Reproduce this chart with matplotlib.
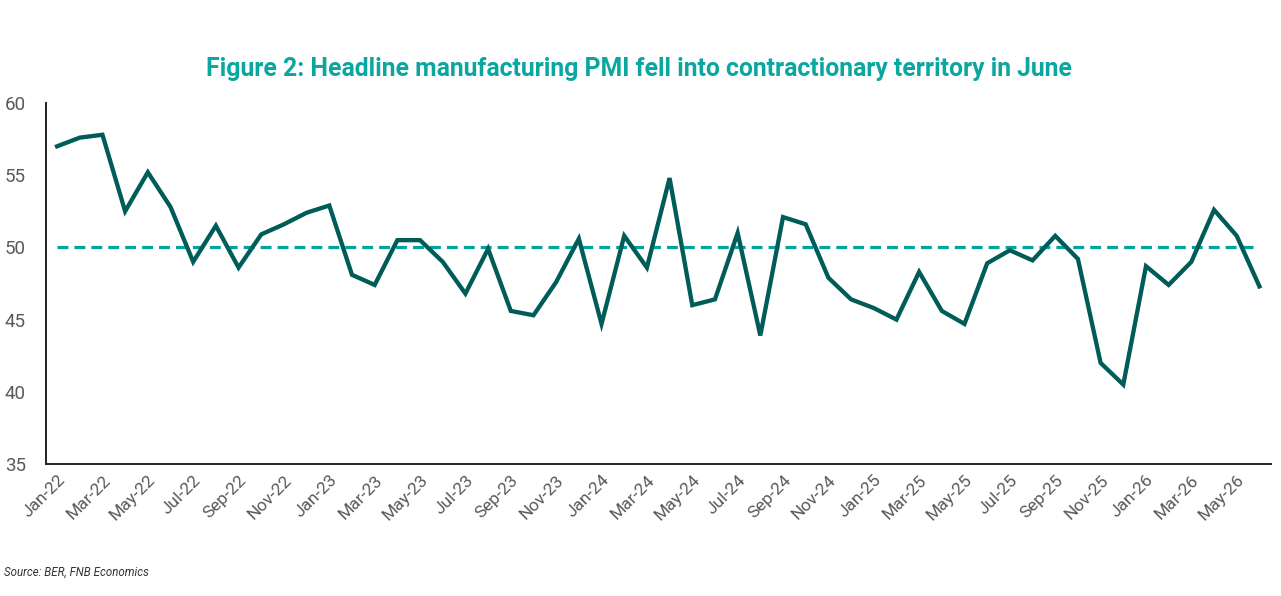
import matplotlib
matplotlib.use("Agg")
import matplotlib.pyplot as plt

# Monthly headline manufacturing PMI, Jan-22 to Jun-26
months = [
    "Jan-22", "Feb-22", "Mar-22", "Apr-22", "May-22", "Jun-22",
    "Jul-22", "Aug-22", "Sep-22", "Oct-22", "Nov-22", "Dec-22",
    "Jan-23", "Feb-23", "Mar-23", "Apr-23", "May-23", "Jun-23",
    "Jul-23", "Aug-23", "Sep-23", "Oct-23", "Nov-23", "Dec-23",
    "Jan-24", "Feb-24", "Mar-24", "Apr-24", "May-24", "Jun-24",
    "Jul-24", "Aug-24", "Sep-24", "Oct-24", "Nov-24", "Dec-24",
    "Jan-25", "Feb-25", "Mar-25", "Apr-25", "May-25", "Jun-25",
    "Jul-25", "Aug-25", "Sep-25", "Oct-25", "Nov-25", "Dec-25",
    "Jan-26", "Feb-26", "Mar-26", "Apr-26", "May-26", "Jun-26",
]
pmi = [
    57.0, 57.6, 57.8, 52.5, 55.2, 52.8,
    49.0, 51.5, 48.6, 50.9, 51.6, 52.4,
    52.9, 48.1, 47.4, 50.5, 50.5, 49.0,
    46.8, 49.9, 45.6, 45.3, 47.6, 50.6,
    44.7, 50.8, 48.6, 54.8, 46.0, 46.4,
    51.0, 43.9, 52.1, 51.6, 47.9, 46.4,
    45.8, 45.0, 48.3, 45.6, 44.7, 48.9,
    49.8, 49.1, 50.8, 49.2, 42.0, 40.5,
    48.7, 47.4, 49.0, 52.6, 50.8, 47.3,
]
neutral = 50
y_ticks = [35, 40, 45, 50, 55, 60]

line_col = "#005C58"
dash_col = "#00A39D"
title_col = "#0AA7A1"
text_col = "#595959"

fig = plt.figure(figsize=(12.81, 5.96), dpi=100)
ax = fig.add_axes([0.0357, 0.2215, 0.9563, 0.6057])

x = list(range(len(months)))
ax.plot(x, [neutral] * len(x), color=dash_col, lw=2.3, dashes=(3.4, 1.9))
ax.plot(x, pmi, color=line_col, lw=3.1, solid_joinstyle="miter")

ax.set_xlim(-0.5, len(months) - 0.5)
ax.set_ylim(35, 60)
ax.set_yticks(y_ticks)
ax.set_yticklabels([str(v) for v in y_ticks], fontsize=13.5, color=text_col,
                   fontfamily="Roboto", ha="left")
ax.tick_params(axis="y", length=0, pad=29.5)

ax.set_xticks(x[::2])
ax.set_xticklabels(months[::2], rotation=45, ha="right", rotation_mode="anchor",
                   fontsize=12.5, color=text_col, fontfamily="Roboto")
ax.tick_params(axis="x", length=0, pad=6)

for side in ["top", "right"]:
    ax.spines[side].set_visible(False)
for side in ["left", "bottom"]:
    ax.spines[side].set_color("#222222")
    ax.spines[side].set_linewidth(1.4)

fig.text(0.499, 0.885, "Figure 2: Headline manufacturing PMI fell into contractionary territory in June",
         ha="center", va="center", fontsize=17.8, fontweight="bold", color=title_col,
         fontfamily="Roboto")
fig.text(0.003, 0.039, "Source: BER, FNB Economics", ha="left", va="center",
         fontsize=8.3, style="italic", color="#333333", fontfamily="Roboto")

fig.savefig("out.png", dpi=100)
